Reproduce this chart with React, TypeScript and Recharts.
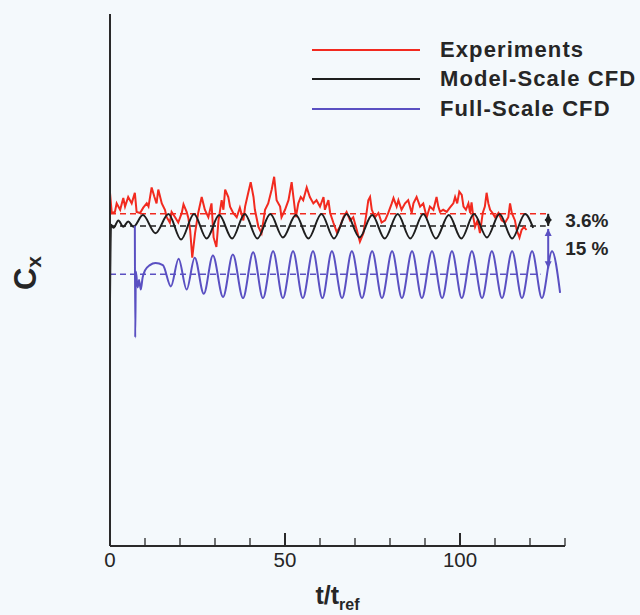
import { LineChart, Line, XAxis, YAxis, ReferenceLine, Legend } from 'recharts'

// ── Data (t/t_ref, Cx) ───────────────────────────────────────────────────────

const SERIES_NAMES = ['Experiments', 'Model-Scale CFD', 'Full-Scale CFD']

const EXP_T = [
  0, 0.5, 1.4, 1.9, 2.9, 3.8, 4.3, 5.2, 6.2, 7.1, 7.6, 8.6, 9.5, 10.5, 11, 11.9, 12.7, 13.3, 13.8, 14.8,
  15.7, 16.2, 17.1, 17.6, 18.6, 19.5, 20.5, 21, 21.9, 22.4, 22.9, 23.5, 24.3, 25.2, 26.2, 27.1, 28.1, 29, 29.6, 30.4,
  31, 31.9, 32.4, 32.9, 33.8, 34.3, 35.2, 36.2, 37.1, 38.1, 38.6, 39.5, 40.2, 41, 41.4, 42.4, 43.3, 44.3, 45.2, 46.2,
  46.9, 47.6, 48.6, 49, 50, 51, 51.9, 52.4, 53.1, 53.8, 54.5, 55.2, 56.2, 57.1, 58.1, 59, 60, 61, 61.4, 62.4,
  62.9, 63.8, 64.8, 65.7, 66.7, 67.6, 68.6, 69.5, 70.5, 71.4, 72.4, 73.3, 73.8, 74.3, 74.8, 75.7, 76.7, 77.6, 78.6, 79.5,
  80.5, 81, 81.9, 82.4, 83.3, 84.3, 85.2, 86.2, 86.7, 87.6, 88.6, 89.5, 90.5, 91.4, 92.4, 93.3, 93.8, 94.3, 95.2, 96.2,
  97.1, 98.1, 98.6, 99.2, 99.8, 100.5, 101, 101.7, 102.4, 102.9, 103.3, 103.8, 104.3, 105, 105.7, 106.5, 107.1, 107.6, 108.1, 108.6,
  109.3, 110, 111, 111.9, 112.9, 113.8, 114.3, 114.8, 115.7, 116.2, 117, 117.6, 118.3, 119,
]
const EXP_CX = [
  0.332, 0.313, 0.314, 0.322, 0.316, 0.327, 0.319, 0.328, 0.322, 0.332, 0.314, 0.313, 0.318, 0.322, 0.319, 0.337, 0.328, 0.322, 0.335, 0.322,
  0.316, 0.309, 0.304, 0.314, 0.309, 0.304, 0.313, 0.321, 0.314, 0.308, 0.297, 0.271, 0.294, 0.313, 0.328, 0.316, 0.309, 0.322, 0.29, 0.281,
  0.306, 0.325, 0.316, 0.335, 0.328, 0.319, 0.313, 0.309, 0.318, 0.306, 0.319, 0.332, 0.342, 0.328, 0.316, 0.3, 0.294, 0.316, 0.322, 0.335,
  0.347, 0.325, 0.319, 0.309, 0.316, 0.325, 0.342, 0.328, 0.309, 0.322, 0.328, 0.325, 0.337, 0.328, 0.322, 0.325, 0.319, 0.328, 0.316, 0.325,
  0.313, 0.304, 0.295, 0.3, 0.309, 0.314, 0.306, 0.309, 0.297, 0.286, 0.294, 0.313, 0.325, 0.328, 0.316, 0.309, 0.313, 0.304, 0.306, 0.313,
  0.322, 0.327, 0.319, 0.325, 0.316, 0.322, 0.325, 0.313, 0.322, 0.328, 0.319, 0.322, 0.309, 0.319, 0.316, 0.328, 0.319, 0.314, 0.316, 0.314,
  0.318, 0.322, 0.328, 0.322, 0.333, 0.33, 0.319, 0.316, 0.322, 0.313, 0.323, 0.309, 0.3, 0.306, 0.294, 0.313, 0.319, 0.332, 0.322, 0.316,
  0.313, 0.309, 0.313, 0.306, 0.304, 0.309, 0.322, 0.313, 0.306, 0.297, 0.29, 0.297, 0.3, 0.297,
]

// model-scale CFD: start-up transient, then extrema of the oscillation
const MODEL_T = [
  0, 0.3, 1, 2.4, 3.8, 5.2, 6.7, 9.4, 13, 16.7, 20.3, 24, 27.6, 31.2, 34.9, 38.5, 42.1, 45.8, 49.4, 53.1,
  56.7, 60.4, 64, 67.6, 71.3, 74.9, 78.5, 82.2, 85.8, 89.5, 93.1, 96.8, 100.4, 104, 107.7, 111.3, 114.9, 118.6, 120.9,
]
const MODEL_CX = [
  0.231, 0.302, 0.299, 0.306, 0.3, 0.305, 0.3, 0.311, 0.294, 0.312, 0.288, 0.312, 0.289, 0.311, 0.289, 0.312, 0.289, 0.312, 0.29, 0.311,
  0.289, 0.312, 0.289, 0.312, 0.29, 0.311, 0.289, 0.312, 0.289, 0.312, 0.289, 0.311, 0.289, 0.312, 0.29, 0.312, 0.289, 0.312, 0.299,
]

// full-scale CFD: starts at t = 7, spike, then a growing oscillation
const FULL_T = [
  7.1, 7.2, 7.4, 7.9, 8.3, 8.8, 9.3, 10, 11.4, 13, 15.1, 17.4, 19.6, 21.9, 24.2, 26.8, 29.4, 32.3, 35.1, 38,
  40.9, 43.7, 46.6, 49.4, 52.3, 55.1, 58, 60.7, 63.4, 66.3, 69.1, 72, 74.9, 77.7, 80.6, 83.4, 86.3, 89.1, 92, 94.9,
  97.7, 100.5, 103.4, 106.3, 109.1, 112, 114.9, 117.7, 120.6, 123.4, 126.3, 128.6,
]
const FULL_CX = [
  0.301, 0.196, 0.258, 0.243, 0.25, 0.241, 0.252, 0.259, 0.264, 0.266, 0.264, 0.244, 0.27, 0.241, 0.271, 0.237, 0.273, 0.234, 0.274, 0.233,
  0.276, 0.233, 0.277, 0.233, 0.277, 0.233, 0.277, 0.233, 0.277, 0.233, 0.277, 0.233, 0.277, 0.233, 0.277, 0.233, 0.277, 0.233, 0.277, 0.233,
  0.277, 0.233, 0.277, 0.233, 0.277, 0.233, 0.277, 0.233, 0.277, 0.233, 0.277, 0.238,
]

// time-averaged levels and where their dashed lines stop
const MEAN_CX = { exp: 0.3122, model: 0.3008, full: 0.2555 }
const MEAN_END = { exp: 125, model: 124.5, full: 123 }

// annotation arrows: t, from Cx, to Cx, text
const ARROW_T = 125.2
const GAP_ARROWS = [
  { from: MEAN_CX.exp, to: MEAN_CX.model, text: '3.6%', color: '#1e1e1e', dy: 13 },
  { from: 0.298, to: 0.261, text: '15 %', color: '#5a50c2', dy: 26 },
]

const X_TICKS = [0, 10, 20, 30, 40, 50, 60, 70, 80, 90, 100, 110, 120, 130]

const toRows = (t: number[], v: number[]) => t.map((x, i) => ({ t: x, cx: v[i] }))

// ── Styles ───────────────────────────────────────────────────────────────────

const FONT = '"Liberation Sans", Arial, Helvetica, sans-serif'
const INK = '#262626'
const AXIS = '#2a2a2a'
const RED = '#f22a1f'
const BLACK = '#1e1e1e'
const BLUE = '#5a50c2'

function TimeTick(props: any) {
  const { x, y, payload } = props
  const v = payload.value as number
  const major = v % 50 === 0
  return (
    <g>
      {v !== 0 && (
        <line x1={x} x2={x} y1={y} y2={y - (major ? 13 : 8)} stroke={AXIS} strokeWidth={major ? 2 : 1.3} />
      )}
      {major && (
        <text x={x} y={y + 21} textAnchor="middle" fontSize={20.5} fontFamily={FONT} fill={INK}>
          {v}
        </text>
      )}
    </g>
  )
}

function TimeLabel({ viewBox }: any) {
  const cx = viewBox.x + viewBox.width / 2
  return (
    <text x={cx} y={viewBox.y + 58} textAnchor="middle" fontFamily={FONT} fontWeight="bold" fill={INK}>
      <tspan fontSize={25}>t/t</tspan>
      <tspan fontSize={16} dy={6}>ref</tspan>
    </text>
  )
}

function CxLabel({ viewBox }: any) {
  const x = viewBox.x - 73
  const y = viewBox.y + 259
  return (
    <text x={x} y={y} transform={`rotate(-90 ${x} ${y})`} textAnchor="middle" fontFamily={FONT} fontWeight="bold" fill={INK}>
      <tspan fontSize={31}>C</tspan>
      <tspan fontSize={21} dy={5}>x</tspan>
    </text>
  )
}

function GapArrow({ x1, y1, x2, y2, color, text, dy }: any) {
  const dir = y2 > y1 ? 1 : -1
  const h = 7
  return (
    <g>
      <line x1={x1} y1={y1} x2={x2} y2={y2} stroke={color} strokeWidth={2} />
      <path d={`M${x1 - 3.5},${y1 + dir * h} L${x1},${y1} L${x1 + 3.5},${y1 + dir * h} Z`} fill={color} />
      <path d={`M${x2 - 3.5},${y2 - dir * h} L${x2},${y2} L${x2 + 3.5},${y2 - dir * h} Z`} fill={color} />
      <text x={x1 + 17} y={Math.min(y1, y2) + dy} fontSize={19} fontWeight="bold" fontFamily={FONT} fill={INK}>
        {text}
      </text>
    </g>
  )
}

function LegendBox({ payload }: any) {
  const items = [...(payload ?? [])].sort(
    (a: any, b: any) => SERIES_NAMES.indexOf(a.value) - SERIES_NAMES.indexOf(b.value),
  )
  return (
    <div>
      {items.map((p: any) => (
        <div key={p.value} style={{ display: 'flex', alignItems: 'center', height: 29.5 }}>
          <div style={{ width: 108, borderTop: `2px solid ${p.color}`, marginRight: 20 }} />
          <span style={{ fontFamily: FONT, fontWeight: 'bold', fontSize: 22, letterSpacing: 1.1, color: INK, whiteSpace: 'nowrap' }}>
            {p.value}
          </span>
        </div>
      ))}
    </div>
  )
}

// ── Chart ────────────────────────────────────────────────────────────────────

export default function App() {
  return (
    <div style={{ position: 'absolute', left: 0, top: 0, width: 640, height: 615, background: '#f4f9fc' }}>
      <LineChart width={640} height={615} margin={{ top: 14, right: 75, left: 109, bottom: 0 }}>
        <XAxis
          type="number"
          dataKey="t"
          domain={[0, 130]}
          ticks={X_TICKS}
          interval={0}
          allowDataOverflow
          height={69}
          tickSize={0}
          tickMargin={0}
          tickLine={false}
          axisLine={{ stroke: AXIS, strokeWidth: 2 }}
          tick={<TimeTick />}
          label={{ content: <TimeLabel /> }}
        />
        <YAxis
          type="number"
          domain={[0, 0.5]}
          width={1}
          tick={false}
          tickLine={false}
          axisLine={{ stroke: AXIS, strokeWidth: 2 }}
          label={{ content: <CxLabel /> }}
        />
        <Legend
          layout="vertical"
          align="center"
          verticalAlign="middle"
          wrapperStyle={{ left: 312, top: 35, width: 330 }}
          content={<LegendBox />}
        />

        <ReferenceLine
          segment={[{ x: 0, y: MEAN_CX.exp }, { x: MEAN_END.exp, y: MEAN_CX.exp }]}
          stroke={RED}
          strokeWidth={1.5}
          strokeDasharray="6 4"
        />
        <ReferenceLine
          segment={[{ x: 0, y: MEAN_CX.model }, { x: MEAN_END.model, y: MEAN_CX.model }]}
          stroke={BLACK}
          strokeWidth={1.5}
          strokeDasharray="6 4"
        />
        <ReferenceLine
          segment={[{ x: 0, y: MEAN_CX.full }, { x: MEAN_END.full, y: MEAN_CX.full }]}
          stroke={BLUE}
          strokeWidth={1.5}
          strokeDasharray="6 4"
        />

        <Line
          data={toRows(EXP_T, EXP_CX)}
          dataKey="cx"
          name={SERIES_NAMES[0]}
          type="linear"
          stroke={RED}
          strokeWidth={2}
          dot={false}
          isAnimationActive={false}
        />
        <Line
          data={toRows(MODEL_T, MODEL_CX)}
          dataKey="cx"
          name={SERIES_NAMES[1]}
          type="monotone"
          stroke={BLACK}
          strokeWidth={2}
          dot={false}
          isAnimationActive={false}
        />
        <Line
          data={toRows(FULL_T, FULL_CX)}
          dataKey="cx"
          name={SERIES_NAMES[2]}
          type="monotone"
          stroke={BLUE}
          strokeWidth={2}
          dot={false}
          isAnimationActive={false}
        />

        {GAP_ARROWS.map((a) => (
          <ReferenceLine
            key={a.text}
            segment={[{ x: ARROW_T, y: a.from }, { x: ARROW_T, y: a.to }]}
            shape={(p: any) => <GapArrow {...p} color={a.color} text={a.text} dy={a.dy} />}
          />
        ))}
      </LineChart>
    </div>
  )
}
